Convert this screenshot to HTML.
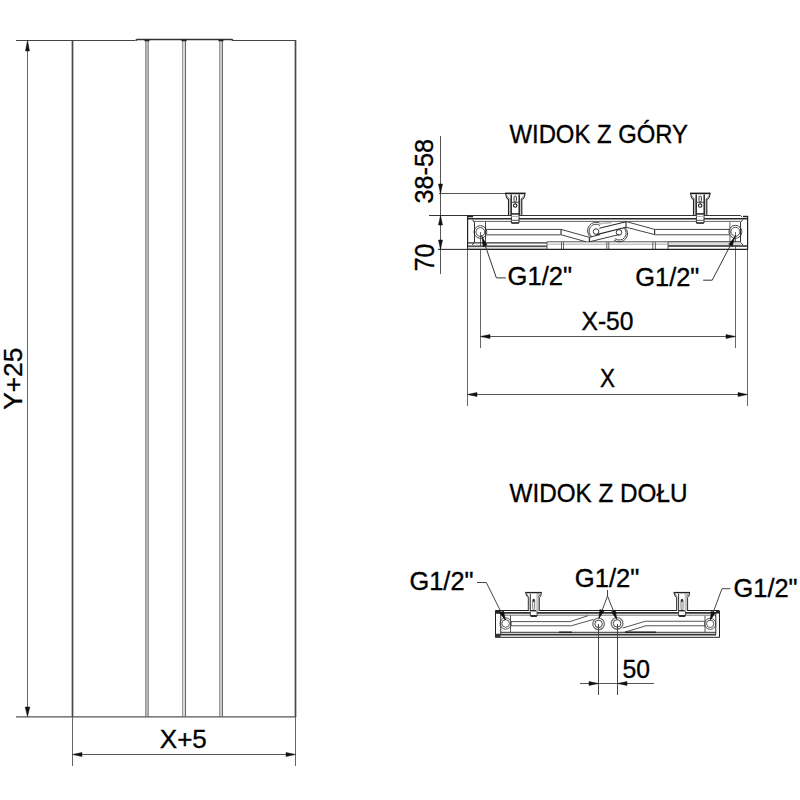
<!DOCTYPE html>
<html><head><meta charset="utf-8">
<style>
html,body{margin:0;padding:0;background:#fff;}
svg{display:block;}
text{font-family:"Liberation Sans",sans-serif;fill:#000;stroke:#000;stroke-width:0.35px;}
</style></head>
<body>
<svg width="800" height="800" viewBox="0 0 800 800">
<rect width="800" height="800" fill="#fff"/>
<!-- ===== LEFT PANEL ===== -->
<!-- grooves -->
<rect x="145" y="41" width="4" height="675.5" fill="#b3b3b3"/>
<path d="M145.5 41V716.5M148.5 41V716.5" stroke="#999" stroke-width="1"/>
<rect x="182" y="41" width="4" height="675.5" fill="#d8d8d8"/>
<path d="M182.5 41V716.5" stroke="#999" stroke-width="1"/><path d="M185.5 41V716.5" stroke="#666" stroke-width="1"/>
<rect x="219" y="41" width="4" height="675.5" fill="#c8c8c8"/>
<path d="M219.5 41V716.5" stroke="#999" stroke-width="1"/><path d="M222.5 41V716.5" stroke="#6a6a6a" stroke-width="1"/>
<g fill="none" stroke="#444" stroke-width="1">
  <path d="M16 40.5H135"/><path d="M233 40.5H296"/><path d="M16 716.8H296" stroke="#555" stroke-width="1.2"/>
  <path d="M72.5 40V717 M295.5 40V717" stroke="#484848" stroke-width="1.7"/>
  <path d="M135.5 40.6L137 39.6H232L233 40.6" stroke="#333" stroke-width="1.5"/>
  <path d="M144.5 40.3H149.5 M181.5 40.3H186.5 M218.5 40.3H223.5" stroke="#222" stroke-width="1.8"/>
</g>
<!-- Y dimension -->
<path d="M27.5 48V709" stroke="#666" stroke-width="1"/>
<path d="M27.5 40.5L25.5 51L29.5 51Z M27.5 716.6L25.2 707L29.8 707Z" fill="#111" stroke="#111" stroke-width="0.5" stroke-linejoin="round"/>
<text transform="translate(21.6,409.7) rotate(-90)" font-size="26" textLength="62" lengthAdjust="spacingAndGlyphs">Y+25</text>
<!-- X+5 dimension -->
<path d="M72.5 717V766 M295.5 717V766" stroke="#666" stroke-width="1"/>
<path d="M80 754.5H288" stroke="#555" stroke-width="1"/>
<path d="M72.5 754.5L82 752.5L82 756.5Z M295.5 754.5L286 752.5L286 756.5Z" fill="#111" stroke="#111" stroke-width="0.5" stroke-linejoin="round"/>
<text x="159.8" y="747.8" font-size="26.5" textLength="47" lengthAdjust="spacingAndGlyphs">X+5</text>

<!-- ===== TOP VIEW ===== -->
<text x="509.5" y="143" font-size="25" textLength="178.5" lengthAdjust="spacingAndGlyphs">WIDOK Z GÓRY</text>
<g fill="none" stroke="#444" stroke-width="1">
  <!-- dimension verticals -->
  <path d="M440.5 136V274" stroke="#555"/>
  <path d="M439 193.5H506" stroke="#555"/>
  <path d="M429 215.5H740.5" stroke="#333"/>
  <path d="M438 249.4H468" stroke="#333" stroke-width="1.1"/>
  <!-- extension lines down -->
  <path d="M467.5 249V406 M747.5 249V406 M480.5 232V348 M735.5 232V348" stroke="#666"/>
  <path d="M482 336.5H734 M469 394.5H746" stroke="#555"/>
</g>
<path d="M440.5 193.5L438.5 184L442.5 184Z M440.5 215.5L438.5 225L442.5 225Z M440.5 249.4L438.5 240L442.5 240Z" fill="#111" stroke="#111" stroke-width="0.5" stroke-linejoin="round"/>
<path d="M480.5 336.5L490 334.5L490 338.5Z M735.5 336.5L726 334.5L726 338.5Z M467.5 394.5L477 392.5L477 396.5Z M747.5 394.5L738 392.5L738 396.5Z" fill="#111" stroke="#111" stroke-width="0.5" stroke-linejoin="round"/>
<text transform="translate(433.3,203.5) rotate(-90)" font-size="25.5" textLength="64.5" lengthAdjust="spacingAndGlyphs">38-58</text>
<text transform="translate(433.8,271.3) rotate(-90)" font-size="27" textLength="27.5" lengthAdjust="spacingAndGlyphs">70</text>
<text x="581.5" y="330" font-size="25" textLength="52" lengthAdjust="spacingAndGlyphs">X-50</text>
<text x="600" y="387" font-size="25" textLength="15" lengthAdjust="spacingAndGlyphs">X</text>
<text x="507.6" y="285.3" font-size="25.5" textLength="64.5" lengthAdjust="spacingAndGlyphs">G1/2"</text>
<text x="635.3" y="285.6" font-size="25.5" textLength="64" lengthAdjust="spacingAndGlyphs">G1/2"</text>

<!-- body -->
<g id="topbody" fill="none" stroke="#333" stroke-width="1">
  <!-- outer -->
  <path d="M467.6 215.5V249.5" stroke="#222" stroke-width="1.2"/>
  <path d="M747.6 216.5V249.5" stroke="#222" stroke-width="1.2"/>
  <path d="M740.4 215.5L742.2 217" stroke="#444"/>
  <path d="M743 216.5H747.2Q747.6 216.5 747.6 217" stroke="#222" stroke-width="1.4"/>
  <rect x="467.6" y="215.5" width="5.5" height="1.8" fill="#222" stroke="none"/>
  <path d="M468 218.7H747.5" stroke="#2a2a2a" stroke-width="1.6"/>
  <path d="M473 221.4H740.6" stroke="#666"/>
  <!-- inner walls -->
  <path d="M472.3 219.5L474.5 222.3V242.2L472.3 245" stroke="#333"/>
  <path d="M743 219.5L740.5 222.3V242.2L743 245" stroke="#333"/>
  <path d="M485.5 221.5V242.8" stroke="#444"/>
  <path d="M729.9 221.5V242.8" stroke="#888" stroke-width="1.3"/>
  <circle cx="480.4" cy="232" r="6.4" stroke="#222" stroke-width="0.8"/>
  <circle cx="480.4" cy="232" r="4.4" stroke="#222" stroke-width="0.8"/>
  <circle cx="735.4" cy="231.8" r="6.5" stroke="#222" stroke-width="0.8"/>
  <circle cx="735.4" cy="231.8" r="4.5" stroke="#222" stroke-width="0.8"/>
  <!-- bottom rail -->
  <path d="M468 242.9H547 M668 241.9H741" stroke="#333" stroke-width="1.1"/>
  <rect x="468" y="246" width="79" height="3" fill="#ddd" stroke="none"/>
  <rect x="668" y="242.4" width="73" height="3.2" fill="#ddd" stroke="none"/>
  <path d="M468 246.1H547" stroke="#2a2a2a" stroke-width="1.3"/>
  <path d="M668 245.9H747.5" stroke="#2a2a2a" stroke-width="1.5"/>
  <path d="M547 241.8H668 M547 241.8V249 M668 241.8V249" stroke="#555"/>
  <path d="M547 244.2H668" stroke="#aaa"/>
  <path d="M561.5 241.8V249 M563.5 241.8V249 M606.8 241.8V249 M608.8 241.8V249 M652.8 241.8V249 M655.4 241.8V249" stroke="#666"/>
  <path d="M467.6 249.4H747.6" stroke="#222" stroke-width="1.1"/>
  <!-- arms -->
  <path d="M485.4 229.4H561L589.4 237.3 M485.4 234.7H561L586 241.8" stroke="#444"/>
  <path d="M561 229.4V234.7" stroke="#333" stroke-width="1.2"/>
  <path d="M626 221.5L654.6 229.4H729.9 M626 227.2L654.6 234.6H729.9" stroke="#444"/>
  <path d="M654.6 229.4V234.6" stroke="#333" stroke-width="1.2"/>
  <path d="M486 234.9H561 M655 234.9H729.5" stroke="#999" stroke-width="1"/>
  <!-- link -->
  <path d="M589.4 237.3V241.8" stroke="#333" stroke-width="1.3"/>
  <path d="M589.4 237.3L600 234.6 M589.4 241.8L619 234.6" stroke="#3a3a3a"/>
  <path d="M599.3 228.3L626 221.8 M596.5 234.6L626 227.2 M626 221.5V227.5" stroke="#2a2a2a" stroke-width="1.1"/>
  <path d="M601 223.9A7.9 7.9 0 0 0 591 237.5 M600 225.5A6.4 6.4 0 0 0 592 236.8" stroke="#333" stroke-width="0.9"/>
  <path d="M599 223.7L612 222.5" stroke="#bbb" stroke-width="1.6"/>
  <path d="M614 240A7.9 7.9 0 0 0 624.5 227 M615 238.6A6.4 6.4 0 0 0 623.5 227.6" stroke="#333" stroke-width="0.9"/>
  <circle cx="596.1" cy="231.6" r="2.8" stroke="#333"/>
  <circle cx="619" cy="232.4" r="2.8" stroke="#333"/>
</g>
<!-- brackets -->
<g id="br" fill="none" stroke="#333" stroke-width="1">
  <path d="M505 193.4H525.6" stroke-width="1.6" stroke="#1a1a1a"/>
  <rect x="508.3" y="199.4" width="2.9" height="15.6" fill="#c8c8c8" stroke="none"/>
  <rect x="519.2" y="199.4" width="2.7" height="15.6" fill="#c8c8c8" stroke="none"/>
  <path d="M505.8 194Q506.2 198.8 508.5 199.4V215 M524.9 194Q524.5 198.8 521.8 199.4V215" stroke="#222" stroke-width="1.1"/>
  <path d="M507 195.5Q508 198.5 510 199 M523.7 195.5Q522.7 198.5 520.7 199" stroke="#888"/>
  <path d="M511.2 194.5V215 M519.2 194.5V215" stroke-width="1.4" stroke="#1a1a1a"/>
  <rect x="514" y="196" width="2.4" height="5.8" rx="1.2" stroke="#333"/>
  <path d="M511.2 202.3H519.2" stroke="#444"/>
  <circle cx="515.2" cy="205.6" r="1.7" stroke="#222" stroke-width="1.1"/>
  <path d="M511.5 213.9H519" stroke-width="1.6" stroke="#333"/>
  <rect x="511.4" y="215" width="7.6" height="8" fill="#fff" stroke="none"/>
  <path d="M511.4 215V223H519V215" stroke="#333"/>
  <path d="M511.4 216.4H519" stroke="#aaa"/>
  <path d="M511.4 220.3H519" stroke="#555"/>
  <path d="M511.6 223H518.8" stroke="#222" stroke-width="1.3"/>
</g>
<use href="#br" transform="translate(185,0)"/>
<!-- leaders -->
<path d="M481.6 235L496.4 277.9H505.8 M735.8 235L712.2 280.2H703.2" fill="none" stroke="#333" stroke-width="1"/>
<path d="M482.10 237.30L483.11 246.49L487.07 245.09Z M734.70 237.20L728.67 244.20L732.39 246.15Z" fill="#111" stroke="#111" stroke-width="0.5" stroke-linejoin="round"/>

<!-- ===== BOTTOM VIEW ===== -->
<text x="509.5" y="502" font-size="25" textLength="178" lengthAdjust="spacingAndGlyphs">WIDOK Z DOŁU</text>
<text x="409.5" y="590" font-size="25.5" textLength="64" lengthAdjust="spacingAndGlyphs">G1/2"</text>
<text x="574.8" y="586.5" font-size="25.5" textLength="64.5" lengthAdjust="spacingAndGlyphs">G1/2"</text>
<text x="733.6" y="596.8" font-size="25.5" textLength="64" lengthAdjust="spacingAndGlyphs">G1/2"</text>
<text x="622.5" y="677.5" font-size="26" textLength="27.5" lengthAdjust="spacingAndGlyphs">50</text>
<g fill="none" stroke="#333" stroke-width="1">
  <path d="M495.5 610.5V637.5 M719.5 611V637.5" stroke="#222"/>
  <path d="M495.5 610.5H719.5 M495.5 637.3H719.5" stroke="#222"/>
  <path d="M496 612.8H716" stroke-width="1.7"/>
  <path d="M501 615.2H716" stroke="#777"/>
  <path d="M501 632.3H716" stroke="#333"/>
  <path d="M496 634.6H716" stroke-width="1.7"/>
  <path d="M500.75 613V634 M715.8 613V634" stroke="#333"/>
  <path d="M510.5 615.3V632.1 M705 615.7V632.6" stroke="#555"/>
  <path d="M510.5 621.6H570L588.3 615.6 M510.5 625.75H571.4L593.5 619.4" stroke="#555"/>
  <path d="M622.8 628L645.3 621.25H705 M625 632.1L646 625.75H705" stroke="#555"/>
  <path d="M559 632.2H572 M625 632.2H656" stroke="#222" stroke-width="1.6"/>
  <circle cx="505.7" cy="623.5" r="5.7" stroke="#333" stroke-width="0.8"/>
  <circle cx="505.7" cy="623.5" r="3.8" stroke="#333" stroke-width="0.8"/>
  <circle cx="598.6" cy="623.9" r="5.8" stroke="#777" stroke-width="1.4"/>
  <circle cx="598.6" cy="623.9" r="3.75" stroke="#444"/>
  <circle cx="617.1" cy="623.4" r="5.8" stroke="#777" stroke-width="1.4"/>
  <circle cx="617.1" cy="623.4" r="3.75" stroke="#444"/>
  <circle cx="710.2" cy="623.8" r="5.6" stroke="#333" stroke-width="0.8"/>
  <circle cx="710.2" cy="623.8" r="3.7" stroke="#333" stroke-width="0.8"/>
  <!-- extension lines + dim -->
  <path d="M598.5 624V695 M617.5 624V695" stroke="#444"/>
  <path d="M580 683.5H654" stroke="#555"/>
  <!-- leaders -->
  <path d="M477 582.5H486.3L505 620" stroke="#444"/>
  <path d="M607.5 590V596L599.5 617.5 M607.5 596L616 617.5" stroke="#444"/>
  <path d="M730.3 588.7H722L710.7 619" stroke="#444"/>
</g>
<rect x="495.5" y="610.5" width="5" height="2.5" fill="#222"/>
<rect x="495.5" y="634" width="5" height="3" fill="#333"/>
<rect x="715.8" y="611" width="3.7" height="2.5" fill="#222"/>
<path d="M598.5 683.5L589 681.5L589 685.5Z M617.5 683.5L627 681.5L627 685.5Z" fill="#111" stroke="#111" stroke-width="0.5" stroke-linejoin="round"/>
<path d="M505.60 620.10L503.44 611.09L499.53 613.10Z M598.75 618.60L604.02 610.98L599.91 609.41Z M616.75 619.40L615.45 610.23L611.37 611.86Z M710.20 620.40L715.40 612.73L711.28 611.20Z" fill="#111" stroke="#111" stroke-width="0.5" stroke-linejoin="round"/>
<!-- bottom brackets -->
<g id="bbr" fill="none" stroke="#333" stroke-width="1">
  <rect x="536.3" y="593.5" width="3" height="17.5" fill="#c4c4c4" stroke="none"/>
  <rect x="528.5" y="597" width="1.8" height="14" fill="#ddd" stroke="none"/>
  <path d="M525.2 592.6H541.8" stroke-width="1.4" stroke="#222"/>
  <path d="M525.7 593Q526.5 597 528.3 597.5V611 M541.3 593Q541 597 539.3 597.5V611" stroke="#333"/>
  <path d="M527 594Q527.5 596.5 529 597 M540 594Q539.5 596.5 538 597" stroke="#777"/>
  <path d="M530.3 594V611" stroke="#333"/>
  <rect x="532.7" y="599.2" width="2" height="10.4" rx="1" stroke="#555" stroke-width="0.8"/>
  <rect x="532.7" y="599.2" width="2" height="2.6" fill="#333" stroke="none"/>
  <rect x="530.3" y="611" width="6.8" height="5" fill="#fff" stroke="none"/>
  <path d="M530.3 611V616H537.1V611" stroke-width="1" stroke="#444"/>
  <path d="M530.5 611.5H537" stroke="#aaa"/>
  <path d="M530.7 616H536.8" stroke-width="1.6" stroke="#111"/>
</g>
<use href="#bbr" transform="translate(148.3,0)"/>
</svg>
</body></html>
